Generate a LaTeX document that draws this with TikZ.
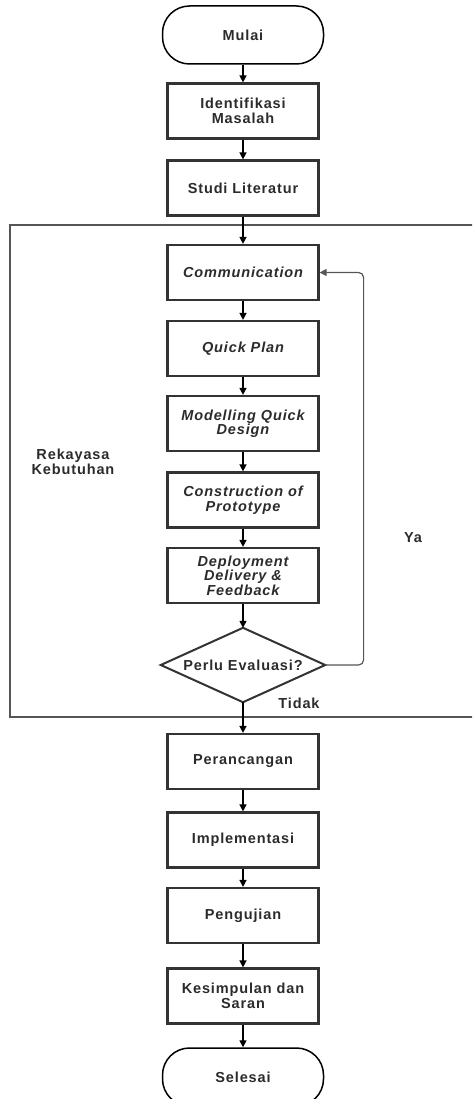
\documentclass[tikz,border=0pt]{standalone}
\usepackage{fontspec}
\setmainfont{Liberation Sans}[LetterSpace=6]
\usetikzlibrary{arrows.meta,positioning,calc}

\definecolor{boxline}{HTML}{333333}
\definecolor{txtgray}{HTML}{2B2B2B}
\definecolor{framegray}{HTML}{555555}

\begin{document}
\begin{tikzpicture}[x=1pt,y=-1pt,
  every node/.style={font=\fontsize{14.5}{14.5}\selectfont\bfseries,text=txtgray},
  box/.style={draw=boxline,line width=2.2pt,minimum width=151pt,minimum height=55pt,align=center,inner sep=2pt},
  boxit/.style={box,font=\fontsize{14.5}{14.5}\selectfont\bfseries\itshape},
  term/.style={draw=black,line width=1.5pt,rounded corners=27pt,minimum width=161pt,minimum height=58pt},
  decide/.style={minimum width=164pt,minimum height=74pt,inner sep=0pt},
  arr/.style={-{Triangle[length=7pt,width=7pt]},line width=1.4pt,black}]

\useasboundingbox (0,0) rectangle (472,1099);
\clip (0,0) rectangle (472,1099);

\def\cx{243}

% the frame round the prototyping steps
\draw [framegray,line width=1.4pt] (10,225) rectangle (490,717);

% all the steps, top to bottom
\def\steps{mulai/35/term/Mulai,
  idm/111/box/{Identifikasi\\Masalah},
  studi/188/box/{Studi Literatur},
  comm/272.5/boxit/Communication,
  qplan/348.5/boxit/{Quick Plan},
  model/423.5/boxit/{Modelling Quick\\Design},
  constr/500/boxit/{Construction of\\Prototype},
  deploy/575.5/boxit/{Deployment\\Delivery \&\\Feedback},
  eval/665/decide/{Perlu Evaluasi?},
  ranc/761.5/box/Perancangan,
  impl/840/box/Implementasi,
  uji/915.5/box/Pengujian,
  simp/996/box/{Kesimpulan dan\\Saran},
  selesai/1077/term/Selesai}
\foreach \nm/\y/\st/\txt in \steps
  \node [\st] (\nm) at (\cx,\y) {\txt};

\draw [boxline,line width=2pt] (eval.north) -- (eval.east) -- (eval.south) -- (eval.west) -- cycle;

% connectors
\foreach \a/\b in {mulai/idm,idm/studi,studi/comm,comm/qplan,qplan/model,model/constr,constr/deploy,deploy/eval,eval/ranc,ranc/impl,impl/uji,uji/simp,simp/selesai}
  \draw [arr] (\a) -- (\b);

% loop back when evaluation is needed
\draw [arr,framegray,line width=1.2pt,rounded corners=5pt] (eval.east) -| ([xshift=44pt]comm.east) -- (comm.east);

\node (ya) at (413,538) {Ya};
\node (tidak) at (299,703) {Tidak};
\node [align=center] (rekayasa) at (73,462) {Rekayasa\\Kebutuhan};
\end{tikzpicture}
\end{document}
